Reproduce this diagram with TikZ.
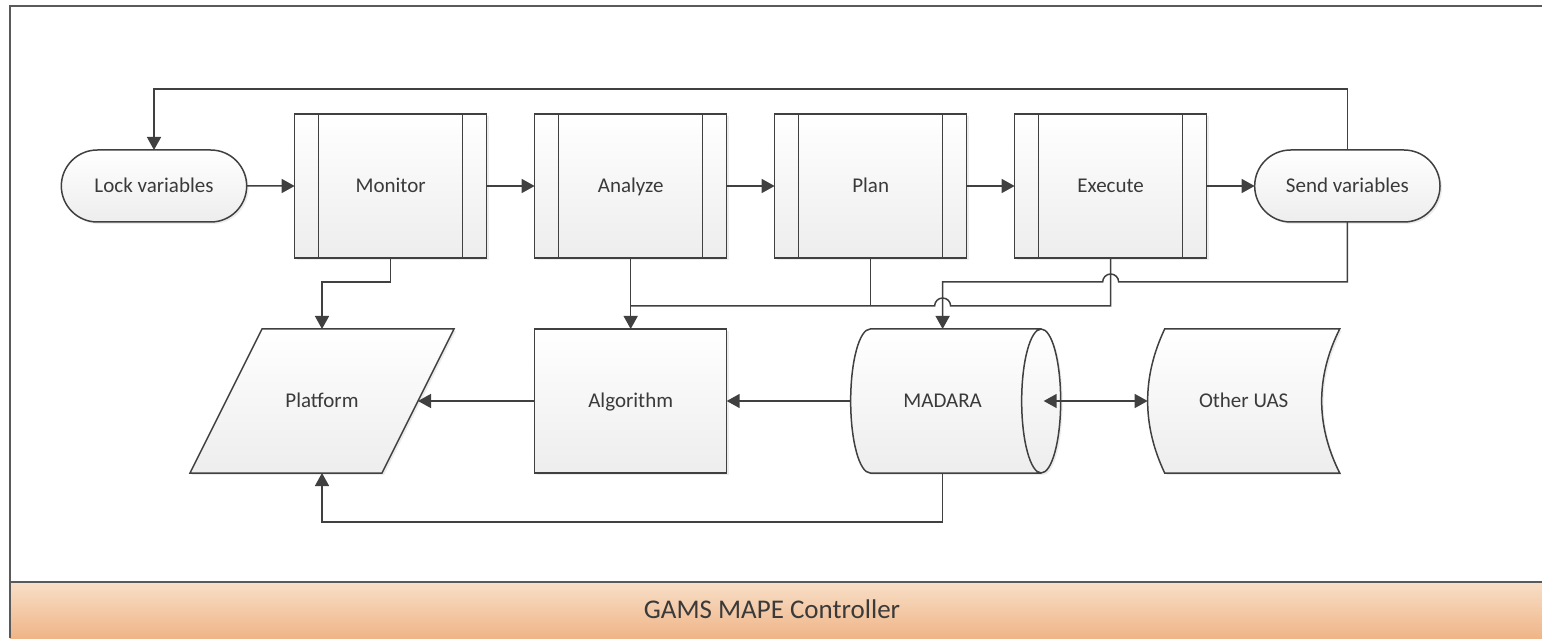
\documentclass[tikz,border=0pt]{standalone}
\usepackage{fontspec}
\setmainfont{Carlito}
\usetikzlibrary{shapes.geometric,shapes.misc,arrows.meta,positioning,calc,shadows,backgrounds}
\definecolor{linegray}{HTML}{404040}
\definecolor{textgray}{HTML}{3A3A3A}
\definecolor{framegray}{HTML}{5A5A5A}
\definecolor{bandtop}{HTML}{F8DFC8}
\definecolor{bandbottom}{HTML}{EFB587}

\begin{document}
\begin{tikzpicture}[
    x=1pt, y=1pt,
    node distance=48pt,
    every node/.style={font=\fontsize{21}{24}\selectfont, text=textgray, text height=14pt, text depth=1pt},
    line/.style={draw=linegray, line width=1.5pt},
    arrow/.style={line, -{Triangle[length=13pt,width=14pt]}},
    base/.style={draw=linegray, line width=1.5pt, outer sep=0pt, top color=white, bottom color=black!7,
        drop shadow={shadow xshift=2pt, shadow yshift=-2pt, opacity=0.15}},
    terminal/.style={base, rounded rectangle, minimum width=192pt, minimum height=72pt},
    process/.style={base, rectangle, minimum width=192pt, minimum height=144pt},
    database/.style={base, cylinder, shape border rotate=0, aspect=1.8, minimum width=144pt, minimum height=210pt},
    frame/.style={rectangle, outer sep=0pt, minimum height=144pt}
]
    \useasboundingbox (0,0) rectangle (1542,638);

    % Frame and controller band
    \fill[top color=bandtop, bottom color=bandbottom] (10,0) rectangle (1542,56);
    \draw[draw=framegray, line width=1.6pt] (1542,56) -- (10,56);
    \draw[draw=framegray, line width=1.6pt] (1542,632) -- (10,632) -- (10,0);
    \node[font=\fontsize{27}{30}\selectfont, text height=18pt] (title) at (772,28) {GAMS MAPE Controller};

    % MAPE loop
    \node[terminal] (lock) at (154,452) {Lock variables};
    \node[process, right=of lock] (monitor) {Monitor};
    \node[process, right=of monitor] (analyze) {Analyze};
    \node[process, right=of analyze] (plan) {Plan};
    \node[process, right=of plan] (execute) {Execute};
    \node[terminal, right=of execute] (send) {Send variables};

    \foreach \p in {monitor,analyze,plan,execute}{
        \draw[line] ($(\p.north west)+(24,0)$) -- ($(\p.south west)+(24,0)$);
        \draw[line] ($(\p.north east)+(-24,0)$) -- ($(\p.south east)+(-24,0)$);
    }

    % Components
    \node[process, below=71pt of analyze] (algorithm) {Algorithm};
    \node[frame, minimum width=264pt] (platform) at (322,237) {Platform};
    \node[database, right=124pt of algorithm] (madara) {MADARA};
    \node[frame, minimum width=192pt, right=87pt of madara] (other) {Other UAS};
    \begin{scope}[on background layer]
        \draw[base] ($(platform.north west)+(72,0)$) -- (platform.north east)
            -- ($(platform.south east)+(-72,0)$) -- (platform.south west) -- cycle;
        \draw[base] ($(other.north west)+(17,0)$) -- (other.north east)
            .. controls ($(other.east)+(-24,24)$) and ($(other.east)+(-24,-24)$) .. (other.south east)
            -- ($(other.south west)+(17,0)$)
            .. controls ($(other.west)+(-5.7,-24)$) and ($(other.west)+(-5.7,24)$) .. cycle;
    \end{scope}

    % Loop flow
    \draw[arrow] (lock) -- (monitor);
    \draw[arrow] (monitor) -- (analyze);
    \draw[arrow] (analyze) -- (plan);
    \draw[arrow] (plan) -- (execute);
    \draw[arrow] (execute) -- (send);
    \draw[arrow] (send.north) -- ++(0,61) -| (lock.north);

    % Knowledge updates
    \draw[arrow] (send.south) -- ++(0,-60) coordinate (s1)
        -- ($(execute.south |- s1)+(8,0)$) arc[start angle=0, end angle=180, radius=8]
        -- (madara.north |- s1) -- (madara.north);
    \draw[line] (execute.south) -- ++(0,-48) coordinate (e1)
        -- ($(madara.north |- e1)+(8,0)$) arc[start angle=0, end angle=180, radius=8]
        -- (analyze.south |- e1);
    \draw[line] (plan.south) -- (plan.south |- e1);
    \draw[arrow] (analyze.south) -- (algorithm.north);
    \draw[arrow] (monitor.south) -- ++(0,-24) -| (platform.north);

    % Data flow
    \draw[arrow] (algorithm.west) -- ([xshift=-36pt]platform.east);
    \draw[arrow] (madara.west) -- (algorithm.east);
    \draw[line, {Triangle[length=13pt,width=14pt]}-{Triangle[length=13pt,width=14pt]}] ([xshift=-17pt]madara.east) -- (other.west);
    \draw[arrow] (madara.south) -- ++(0,-49) -| (platform.south);

\end{tikzpicture}
\end{document}
